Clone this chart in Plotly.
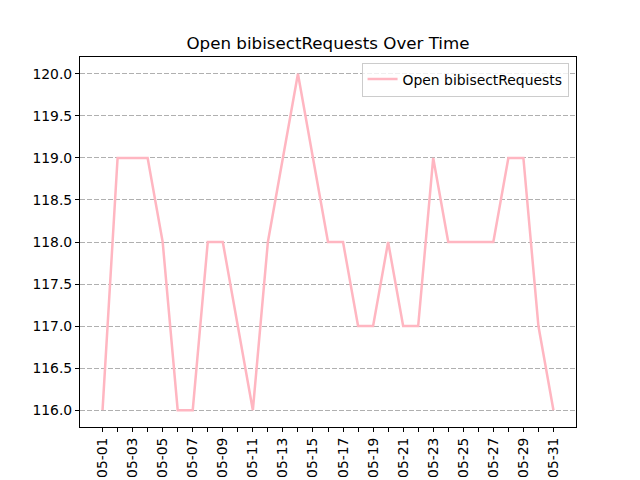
import plotly.graph_objects as go
import pandas as pd

dates = pd.date_range("2024-05-01", "2024-05-31", freq="D")
values = [116, 119, 119, 119, 118, 116, 116, 118, 118, 117, 116, 118, 119, 120, 119,
          118, 118, 117, 117, 118, 117, 117, 119, 118, 118, 118, 118, 119, 119, 117, 116]
y_ticks = [116.0, 116.5, 117.0, 117.5, 118.0, 118.5, 119.0, 119.5, 120.0]

tick_text = [d.strftime("%m-%d") if i % 2 == 0 else "" for i, d in enumerate(dates)]

fig = go.Figure()
fig.add_trace(go.Scatter(x=dates, y=values, mode="lines", name="Open bibisectRequests",
                         line=dict(color="#FFB6C1", width=2.5)))

fig.update_layout(
    width=640, height=480,
    margin=dict(l=80, r=64, t=57, b=53),
    paper_bgcolor="white", plot_bgcolor="white",
    font=dict(family="DejaVu Sans", size=13.9, color="black"),
    title=dict(text="Open bibisectRequests Over Time", x=0.5, xref="paper", xanchor="center",
               y=1 - 43 / 480, yanchor="middle", font=dict(size=16.7)),
    showlegend=True,
    legend=dict(x=0.985, y=0.985, xanchor="right", yanchor="top",
                bordercolor="#cccccc", borderwidth=1, bgcolor="rgba(255,255,255,0.8)",
                font=dict(size=13.9), itemwidth=30, tracegroupgap=0),
)
fig.update_xaxes(
    automargin=False,
    range=[dates[0] - pd.Timedelta(hours=36), dates[-1] + pd.Timedelta(hours=36)],
    tickvals=list(dates), ticktext=tick_text, tickangle=-90,
    ticks="outside", ticklen=4, tickcolor="black",
    showline=True, linecolor="black", linewidth=1, mirror=True,
    showgrid=False, zeroline=False,
)
fig.update_yaxes(
    automargin=False,
    range=[115.8, 120.2], tickvals=y_ticks, ticktext=[f"{v:.1f}" for v in y_ticks],
    ticks="outside", ticklen=4, tickcolor="black",
    showline=True, linecolor="black", linewidth=1, mirror=True,
    showgrid=True, gridcolor="#b0b0b0", griddash="5px,2px", gridwidth=1, zeroline=False,
)

fig.write_html("out.html", config={"displayModeBar": False},
               post_script="document.body.style.margin='0';document.body.style.overflow='hidden';")
